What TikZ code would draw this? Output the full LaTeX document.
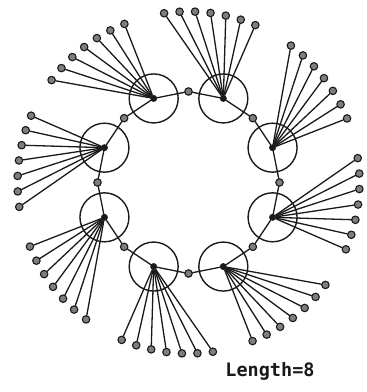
\documentclass[tikz,border=0pt]{standalone}
\usepackage{fontspec}
\newfontfamily\lenfont{DejaVu Sans Mono}
\usetikzlibrary{calc}
\definecolor{ringink}{HTML}{1A1A1A}
\definecolor{leafgray}{HTML}{7E7E7E}

\begin{document}
\begin{tikzpicture}[x=1pt,y=1pt,line cap=round,line join=round,
  hub/.style={circle,inner sep=0pt,minimum size=7pt,fill=ringink},
  leaf/.style={circle,inner sep=0pt,minimum size=7.5pt,draw=ringink,line width=1.1pt,fill=leafgray},
  link/.style={ringink,line width=1.3pt},
  info/.style={font=\lenfont\bfseries\fontsize{18.5}{20}\selectfont,text=ringink}]
\path[use as bounding box] (0,0) rectangle (367,392);
\fill[white] (0,0) rectangle (367,392);
\coordinate (c) at (188.5,209.5);
% ring dots between the circles
\foreach \k in {0,...,7}
  \node[leaf] (r\k) at ($(c)+(45*\k:91)$) {};
% hubs, their circles and the fans of leaves
\foreach \k [evaluate=\k as \n using {int(mod(\k+1,8))}] in {0,...,7} {
  \node[hub] (h\k) at ($(c)+(22.5+45*\k:91)$) {};
  \draw[link,line width=1.4pt] (h\k) circle (24.5);
  \draw[link] (r\k) -- (h\k) -- (r\n);
  \foreach \j in {0,...,6} {
    \node[leaf] (l\k-\j) at ($(c)+(22+45*\k+5.2*\j:171)$) {};
    \draw[link] (h\k) -- (l\k-\j);
  }
}
\node[info,anchor=base] (len) at (270,16) {Length=8};
\end{tikzpicture}
\end{document}
